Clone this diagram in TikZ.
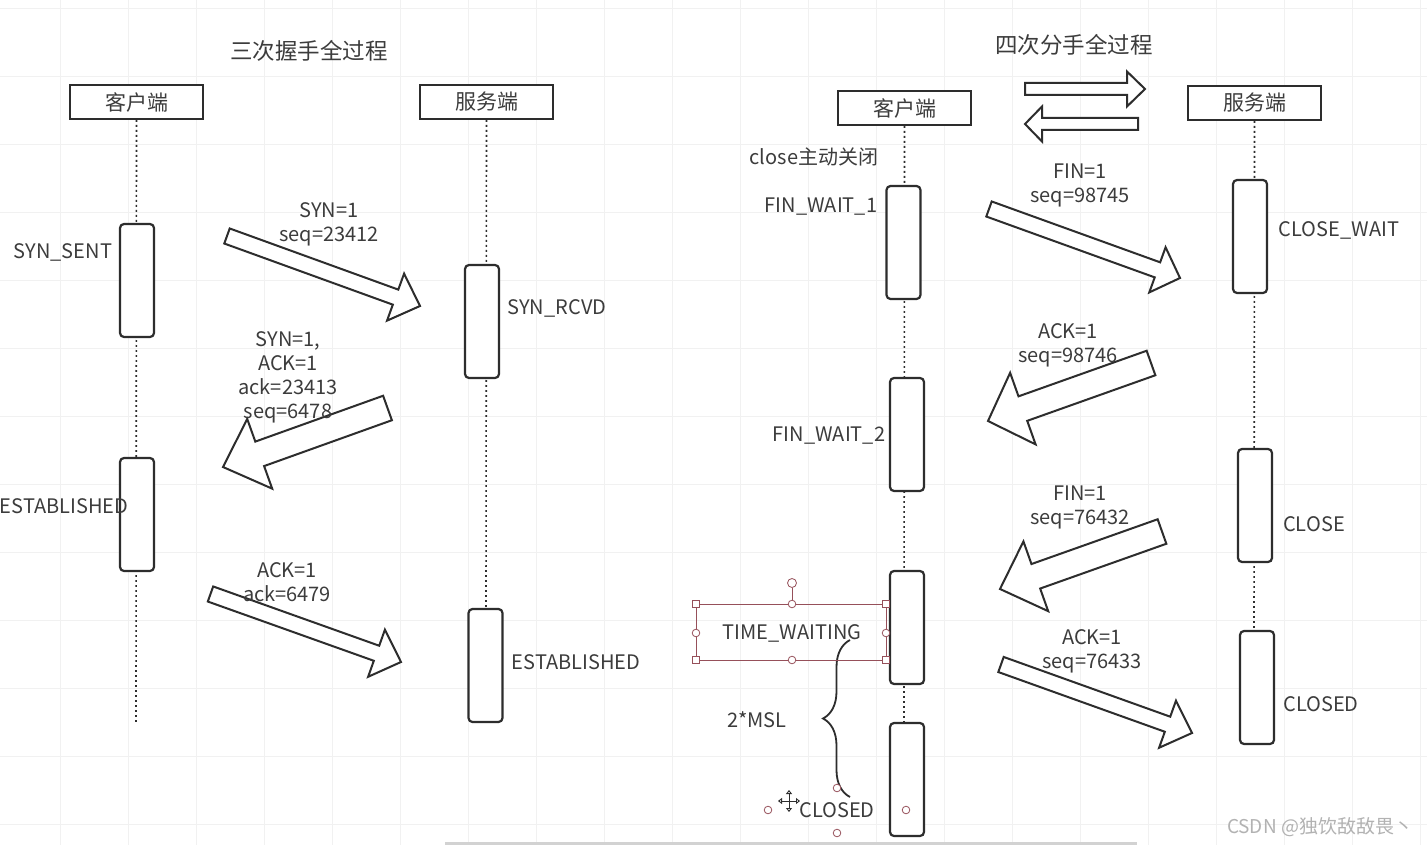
\documentclass[tikz,border=0pt]{standalone}
\usepackage{fontspec}
\setmainfont{Noto Sans CJK SC}
\usetikzlibrary{calc,arrows.meta,decorations.pathreplacing}
\definecolor{ink}{RGB}{45,45,45}
\definecolor{txt}{RGB}{60,60,60}
\definecolor{sel}{RGB}{150,80,90}
\definecolor{gridc}{RGB}{241,241,241}
\newcommand{\blockarr}[5]{%
  \coordinate (hb) at ($(#2)!#5!(#1)$);
  \draw[blk] ($(#1)!#3!90:(#2)$) -- ($(hb)!#3!-90:(#1)$) -- ($(hb)!#4!-90:(#1)$) -- (#2)
    -- ($(hb)!#4!90:(#1)$) -- ($(hb)!#3!90:(#1)$) -- ($(#1)!#3!-90:(#2)$) -- cycle;}
\begin{document}
\begin{tikzpicture}[x=1pt,y=-1pt,
  hdr/.style={draw=ink,line width=2pt,fill=white,minimum width=133pt,minimum height=34pt,inner sep=0pt,text=txt,font=\fontsize{21}{25}\selectfont},
  act/.style={draw=ink,line width=2.2pt,fill=white,rounded corners=4pt,minimum width=34pt,minimum height=113pt,inner sep=0pt},
  life/.style={draw=ink,line width=1.6pt,dash pattern=on 1.8pt off 3.2pt},
  blk/.style={draw=ink,line width=2pt,fill=white,line join=miter},
  st/.style={text=txt,inner sep=0pt,font=\fontsize{20}{24}\selectfont},
  msg/.style={text=txt,inner sep=0pt,align=center,font=\fontsize{20}{24}\selectfont},
  ttl/.style={text=txt,inner sep=0pt,font=\fontsize{22.5}{26}\selectfont},
  hdl/.style={draw=sel,line width=0.8pt,fill=white}]
\fill[white] (0,0) rectangle (1427,845);
\useasboundingbox (0,0) rectangle (1427,845);
\foreach \gx in {60,128,...,1420} \draw[gridc,line width=0.6pt] (\gx,0) -- (\gx,845);
\foreach \gy in {8,76,...,840} \draw[gridc,line width=0.6pt] (0,\gy) -- (1427,\gy);
\draw[gray!35,line width=3pt] (445,843) -- (1137,843);

\node[ttl] (t3) at (309,51) {三次握手全过程};
\node[ttl] (t4) at (1074,45) {四次分手全过程};

\node[hdr] (cli) at (136.5,102) {客户端};
\node[hdr] (srv) at (486.5,102) {服务端};
\node[hdr] (rcli) at (904.5,108) {客户端};
\node[hdr] (rsrv) at (1254.5,103) {服务端};

\coordinate (cli-end) at (136,722);
\coordinate (srv-end) at (486,609);
\coordinate (rcli-end) at (904,723);
\coordinate (rsrv-end) at (1254,631);
\draw[life] (cli.south) -- (cli-end);
\draw[life] (srv.south) -- (srv-end);
\draw[life] (rcli.south) -- (rcli-end);
\draw[life] (rsrv.south) -- (rsrv-end);

\node[act] (c1) at (137,280.5) {};
\node[act] (c2) at (137,514.5) {};
\node[act] (s1) at (482,321.5) {};
\node[act] (s2) at (485.5,665.5) {};
\node[act] (rc1) at (903.5,242.5) {};
\node[act] (rc2) at (907,434.5) {};
\node[act] (rc3) at (907,627.5) {};
\node[act] (rc4) at (907,779.5) {};
\node[act] (rs1) at (1250,236.5) {};
\node[act] (rs2) at (1255,505.5) {};
\node[act] (rs3) at (1257,687.5) {};

\coordinate (syn-t) at (227,236);   \coordinate (syn-h) at (420,306);
\coordinate (sa-t) at (387.5,408);  \coordinate (sa-h) at (223,467);
\coordinate (ack-t) at (210.5,594); \coordinate (ack-h) at (401,662);
\coordinate (fin1-t) at (989,209);  \coordinate (fin1-h) at (1180,278);
\coordinate (ack1-t) at (1151,363); \coordinate (ack1-h) at (988,421);
\coordinate (fin2-t) at (1162,531.5); \coordinate (fin2-h) at (1000,589);
\coordinate (ack2-t) at (1001,664.5); \coordinate (ack2-h) at (1192,733);
\coordinate (go-t) at (1025,89);    \coordinate (go-h) at (1145,89);
\coordinate (back-t) at (1138,124); \coordinate (back-h) at (1025,124);
\blockarr{syn-t}{syn-h}{8pt}{25pt}{26pt}
\blockarr{sa-t}{sa-h}{13pt}{37pt}{39pt}
\blockarr{ack-t}{ack-h}{8pt}{25pt}{26pt}
\blockarr{fin1-t}{fin1-h}{8pt}{24pt}{24pt}
\blockarr{ack1-t}{ack1-h}{13pt}{38pt}{37pt}
\blockarr{fin2-t}{fin2-h}{13pt}{37pt}{38pt}
\blockarr{ack2-t}{ack2-h}{8pt}{25pt}{26pt}
\blockarr{go-t}{go-h}{6pt}{17.5pt}{18pt}
\blockarr{back-t}{back-h}{6pt}{17.5pt}{17pt}

\node[msg] (m1) at (329,224.5) {SYN=1\\seq=23412};
\node[msg] (m2) at (288,377) {SYN=1,\\ACK=1\\ack=23413\\seq=6478};
\node[msg] (m3) at (287,582.5) {ACK=1\\ack=6479};
\node[msg] (m4) at (1080,185.5) {FIN=1\\seq=98745};
\node[msg] (m5) at (1068,345) {ACK=1\\seq=98746};
\node[msg] (m6) at (1080,507) {FIN=1\\seq=76432};
\node[msg] (m7) at (1092,651) {ACK=1\\seq=76433};

\node[st] (ss) at (63,252) {SYN\_SENT};
\node[st] (sr) at (557,308) {SYN\_RCVD};
\node[st] (ce) at (64,506) {ESTABLISHED};
\node[st] (se) at (576,662) {ESTABLISHED};
\node[st] (cl) at (814,157) {close主动关闭};
\node[st] (fw1) at (821,207) {FIN\_WAIT\_1};
\node[st] (cw) at (1339,230) {CLOSE\_WAIT};
\node[st] (fw2) at (829,436) {FIN\_WAIT\_2};
\node[st] (cs) at (1314,524) {CLOSE};
\node[st] (tw) at (792,633) {TIME\_WAITING};
\node[st] (cd) at (1321,704) {CLOSED};
\node[st] (cc) at (837,810) {CLOSED};
\node[st] (msl) at (757,720) {2*MSL};

\coordinate (br-b) at (850,797);
\coordinate (br-t) at (850,640);
\draw[ink,line width=1.8pt,decorate,decoration={brace,amplitude=27pt}] (br-b) -- (br-t);

\draw[sel,line width=0.8pt] (696,604) rectangle (886,660);
\draw[sel,line width=0.8pt] (792,587.5) -- (792,604);
\foreach \hx/\hy in {696/604,886/604,696/660,886/660}
  \draw[hdl] (\hx-3.5,\hy-3.5) rectangle (\hx+3.5,\hy+3.5);
\foreach \hx/\hy in {792/604,792/660,696/633,886/633,837/788,768/810,906/810,837/833}
  \draw[hdl] (\hx,\hy) circle (3.8pt);
\draw[hdl] (792,583) circle (4.5pt);
\draw[ink,line width=0.9pt,{Triangle[open,length=4pt,width=6pt]}-{Triangle[open,length=4pt,width=6pt]}] (778,801) -- (800,801);
\draw[ink,line width=0.9pt,{Triangle[open,length=4pt,width=6pt]}-{Triangle[open,length=4pt,width=6pt]}] (789,790) -- (789,812);

\node[text=gray!60,inner sep=0pt,font=\fontsize{19}{21}\selectfont] (wm) at (1320,827) {CSDN @独饮敌敌畏丶};
\end{tikzpicture}
\end{document}
